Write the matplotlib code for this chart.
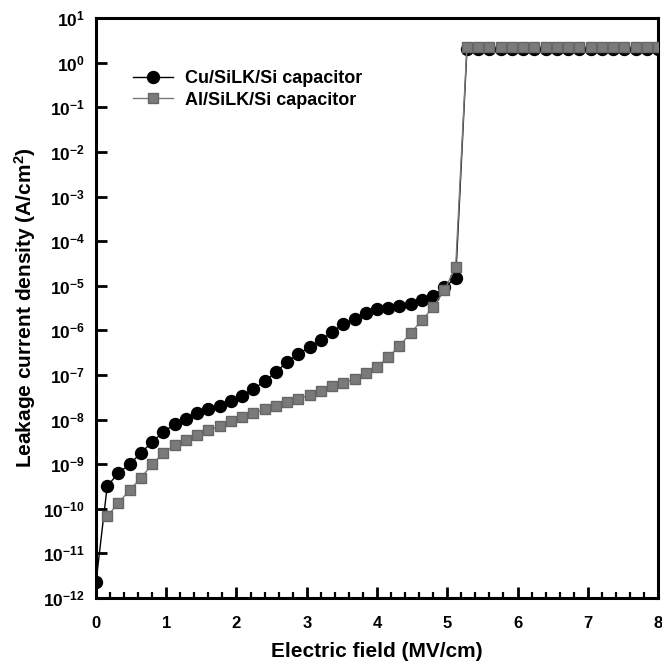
import numpy as np
import matplotlib
matplotlib.use("Agg")
from matplotlib import pyplot as plt

plt.rcParams['font.family'] = ['Liberation Sans', 'DejaVu Sans']
plt.rcParams['font.weight'] = 'bold'
plt.rcParams['mathtext.fontset'] = 'custom'
plt.rcParams['mathtext.rm'] = 'Liberation Sans:bold'
plt.rcParams['mathtext.bf'] = 'Liberation Sans:bold'
plt.rcParams['mathtext.default'] = 'bf'

# 电场 (MV/cm), step 0.16
field = [round(0.16 * i, 2) for i in range(51)]

# log10 of leakage current density (A/cm^2)
cu_log = [-11.65, -9.49, -9.20, -9.00, -8.75, -8.50, -8.28, -8.10, -7.99, -7.86,
          -7.77, -7.70, -7.59, -7.48, -7.32, -7.14, -6.94, -6.71, -6.53, -6.38,
          -6.22, -6.04, -5.86, -5.75, -5.61, -5.52, -5.50, -5.46, -5.41, -5.32,
          -5.23, -5.03, -4.83] + [0.30] * 18
al_log = [None, -10.17, -9.87, -9.58, -9.31, -9.00, -8.75, -8.57, -8.46, -8.35,
          -8.24, -8.15, -8.04, -7.95, -7.86, -7.77, -7.70, -7.61, -7.54, -7.45,
          -7.37, -7.25, -7.18, -7.09, -6.96, -6.83, -6.60, -6.35, -6.06, -5.77,
          -5.48, -5.10, -4.58] + [0.36] * 18

y_decades = list(range(-12, 2))
x_ticks = [0, 1, 2, 3, 4, 5, 6, 7, 8]

cu = [10 ** v for v in cu_log]
al_x = [f for f, v in zip(field, al_log) if v is not None]
al = [10 ** v for v in al_log if v is not None]

fig = plt.figure(figsize=(6.62, 6.65), dpi=100)
ax = fig.add_axes([0.145, 0.1008, 0.849, 0.872])

ax.plot(field, cu, '-o', color='black', lw=1.0, ms=8.6, mfc='black', mec='black',
        label='Cu/SiLK/Si capacitor', zorder=3)
ax.plot(al_x, al, '-s', color='#7a7a7a', lw=1.0, ms=7.0, mfc='#7a7a7a', mec='#666666',
        label='Al/SiLK/Si capacitor', zorder=4)

ax.set_yscale('log')
ax.set_xlim(0, 8)
ax.set_ylim(1e-12, 10)
ax.set_yticks([10.0 ** d for d in y_decades])
ax.set_yticklabels([r'$10^{%d}$' % d for d in y_decades])
ax.yaxis.set_minor_locator(matplotlib.ticker.NullLocator())
ax.set_xticks(x_ticks)
ax.set_xticks(np.arange(0, 8.01, 0.2), minor=True)

for s in ax.spines.values():
    s.set_linewidth(2.2)
ax.tick_params(which='major', direction='in', length=8, width=2, labelsize=12, pad=13)
ax.tick_params(which='minor', direction='in', length=4, width=1.6)
ax.tick_params(axis='y', which='major', labelsize=12.5, pad=8)
for lab in ax.get_xticklabels():
    lab.set_fontweight('bold')

ax.set_xlabel('Electric field (MV/cm)', fontsize=15, fontweight='bold', labelpad=8)
ax.set_ylabel(r'Leakage current density (A/cm$^2$)', fontsize=15, fontweight='bold', labelpad=4)

ax.legend(loc='upper left', bbox_to_anchor=(0.066, 0.91), frameon=False,
          fontsize=13, handlelength=2.2, handletextpad=0.65, borderpad=0,
          borderaxespad=0, labelspacing=0.25)

fig.savefig('out.png', dpi=100)
